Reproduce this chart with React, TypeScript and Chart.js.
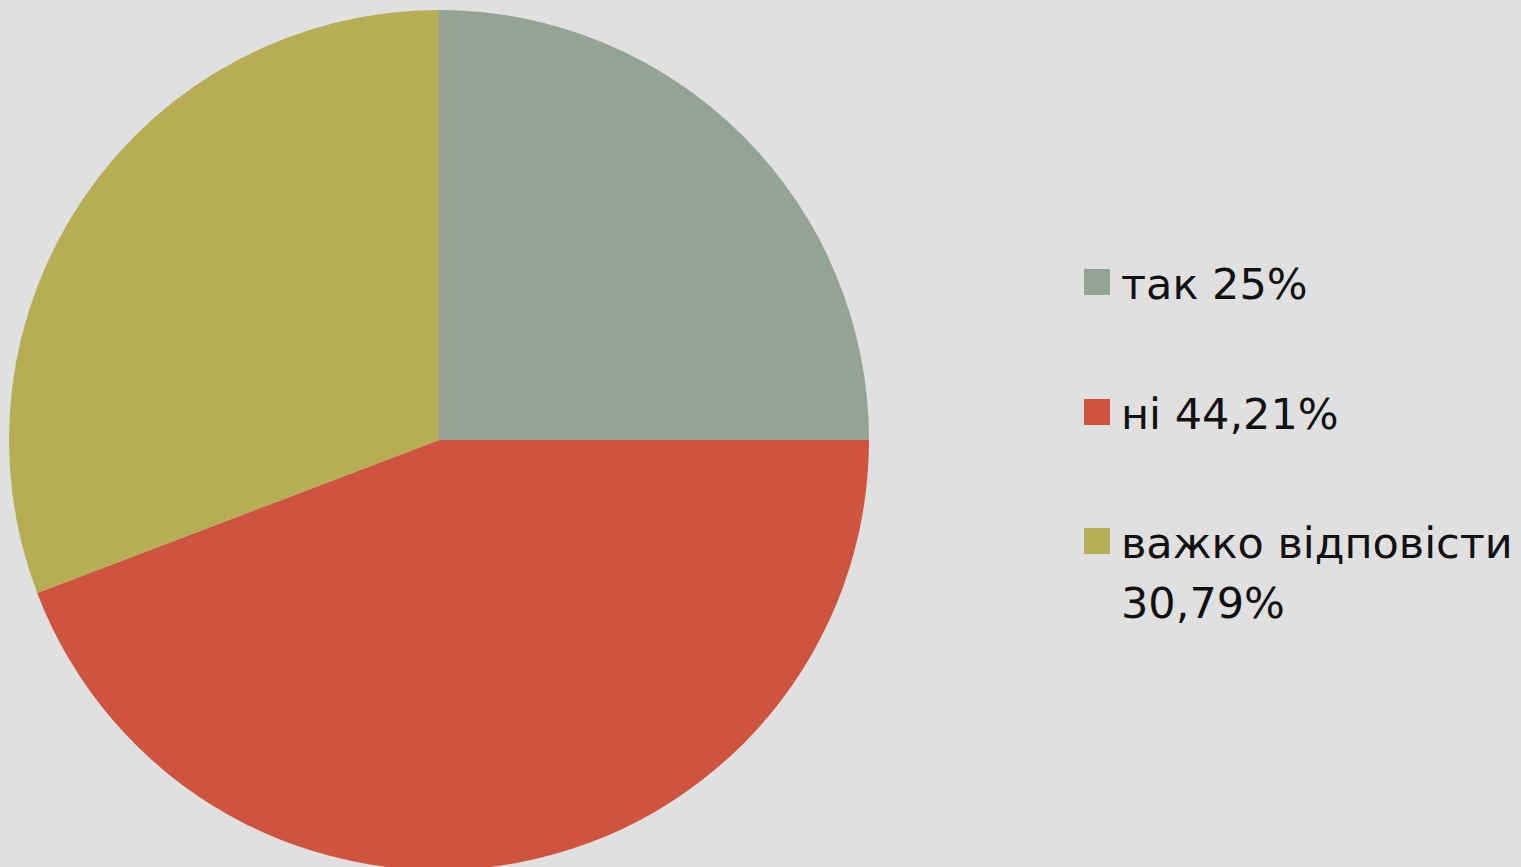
import React, { useEffect, useRef } from "react";
import { Chart, registerables } from "chart.js";

Chart.register(...registerables);

const categories: string[] = ["так", "ні", "важко відповісти"];
const values: number[] = [25, 44.21, 30.79];
const valueLabels: string[] = ["25%", "44,21%", "30,79%"];
const colors: string[] = ["#94A298", "#CF5440", "#B5AE54"];

const FONT = "'DejaVu Sans', sans-serif";

export default function App() {
  const ref = useRef<HTMLCanvasElement | null>(null);

  useEffect(() => {
    document.body.style.margin = "0";
    if (!ref.current) return;
    const chart = new Chart(ref.current, {
      type: "pie",
      data: {
        labels: categories,
        datasets: [
          {
            data: values,
            backgroundColor: colors,
            borderWidth: 0,
          },
        ],
      },
      options: {
        animation: false,
        responsive: false,
        layout: { padding: 9 },
        plugins: {
          legend: { display: false },
          tooltip: { enabled: false },
        },
      },
    });
    return () => chart.destroy();
  }, []);

  const rows = [
    { top: 269, lines: [`${categories[0]} ${valueLabels[0]}`] },
    { top: 399, lines: [`${categories[1]} ${valueLabels[1]}`] },
    { top: 528, lines: [categories[2], valueLabels[2]] },
  ];

  return (
    <div
      style={{
        position: "relative",
        width: 1521,
        height: 867,
        overflow: "hidden",
        background: "#e0e0e0",
      }}
    >
      <canvas
        ref={ref}
        width={878}
        height={878}
        style={{ position: "absolute", left: 0, top: 1, width: 878, height: 878 }}
      />
      {rows.map((r, i) => (
        <div key={i}>
          <div
            style={{
              position: "absolute",
              left: 1084,
              top: r.top,
              width: 26,
              height: 26,
              background: colors[i],
            }}
          />
          {r.lines.map((t, j) => (
            <div
              key={j}
              style={{
                position: "absolute",
                left: 1121,
                top: r.top - 10 + j * 60,
                fontFamily: FONT,
                fontSize: 43,
                lineHeight: "50px",
                color: "#111",
                whiteSpace: "nowrap",
              }}
            >
              {t}
            </div>
          ))}
        </div>
      ))}
    </div>
  );
}
